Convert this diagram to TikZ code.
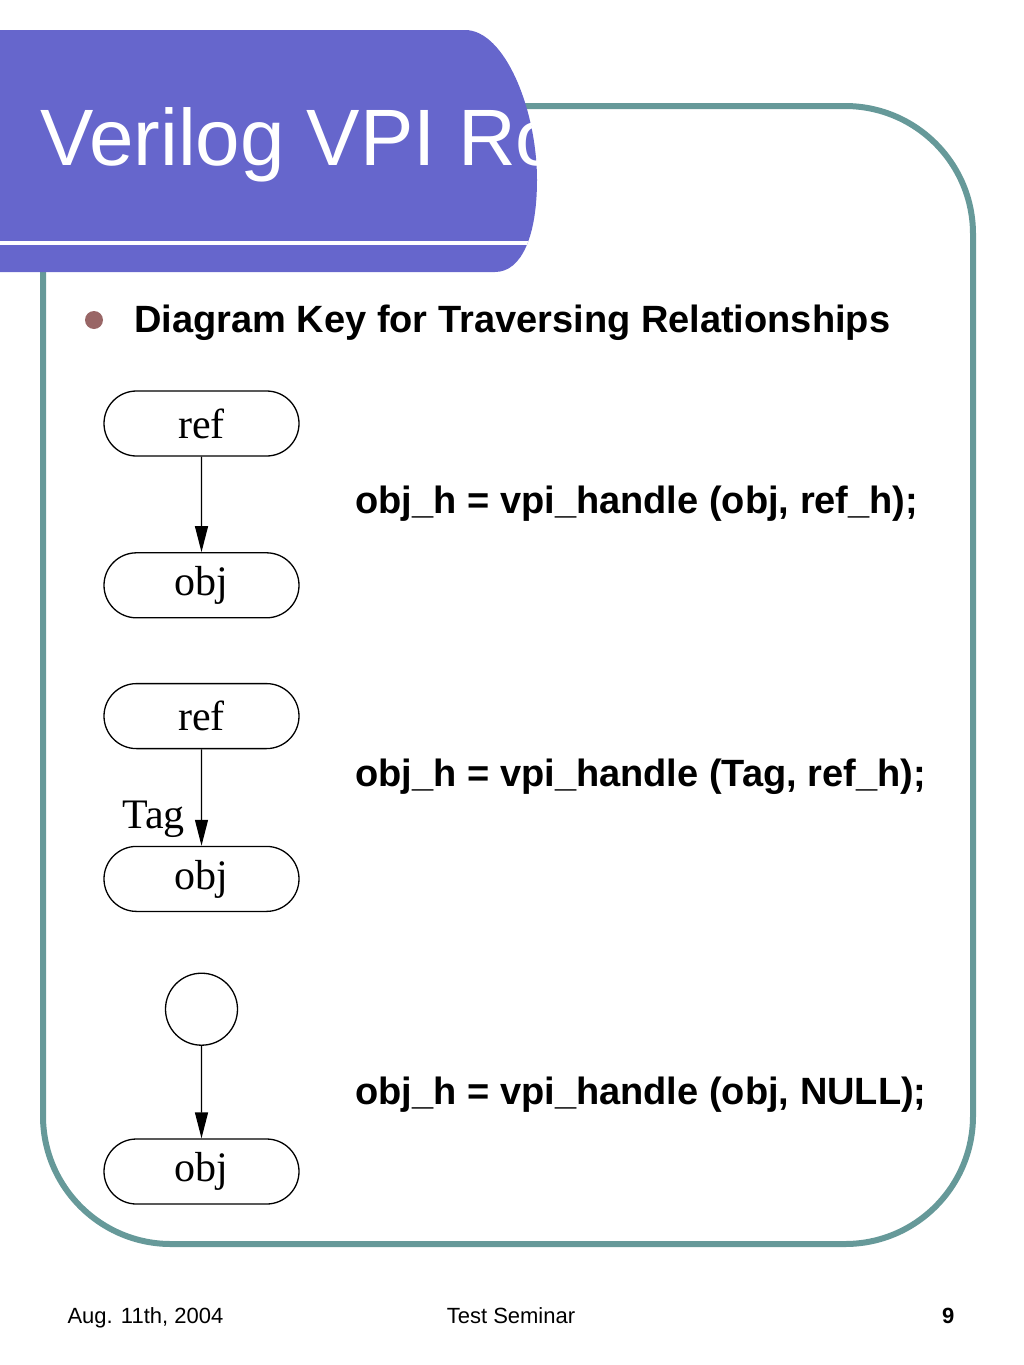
\documentclass[tikz,border=0pt]{standalone}
\usepackage{fontspec}
\setmainfont{Liberation Sans}
\newfontfamily\keyfont{Liberation Serif}
\usetikzlibrary{shapes.misc,arrows.meta,positioning}
\definecolor{tabblue}{RGB}{102,102,204}
\definecolor{frameteal}{RGB}{102,153,153}
\definecolor{bulletred}{RGB}{153,102,102}
\tikzset{
  >={Triangle[length=26pt,width=13pt]},
  keynode/.style={
    rounded rectangle,
    draw=black, line width=1.3pt,
    minimum width=195pt,
    minimum height=65pt,
    inner sep=0pt,
    font=\keyfont\fontsize{42}{42}\selectfont},
  rootnode/.style={circle, draw=black, line width=1.3pt, minimum size=72pt, inner sep=0pt},
  keyarrow/.style={draw, line width=1.3pt, ->},
  keylabel/.style={font=\keyfont\fontsize{42}{42}\selectfont, inner sep=0pt},
  codetext/.style={anchor=base west, font=\bfseries\fontsize{38}{38}\selectfont},
  foottext/.style={font=\fontsize{22}{22}\selectfont},
}

\begin{document}
\begin{tikzpicture}[x=1pt, y=-1pt]
    \useasboundingbox (0,0) rectangle (1024,1365);

    % frame
    \draw[frameteal, line width=6pt, rounded corners=128pt] (43,106) rectangle (973,1244);

    % title tab
    \begin{scope}
      \clip (0,30) -- (465,30) .. controls (505,30) and (537,110) .. (537,180)
        .. controls (537,235) and (522,272) .. (495,272) -- (0,272) -- cycle;
      \fill[tabblue] (0,0) rectangle (560,300);
      \draw[white, line width=4pt] (0,243) -- (560,243);
      \node[anchor=base west, text=white, inner sep=0pt,
        font=\fontsize{80}{80}\selectfont] (title) at (40,165) {Verilog VPI Ro};
    \end{scope}

    % heading
    \fill[bulletred] (94,320) circle (9pt);
    \node[anchor=base west, inner sep=0pt, font=\bfseries\fontsize{38}{38}\selectfont]
      (heading) at (134,332) {Diagram Key for Traversing Relationships};

    % key nodes
    \node[keynode] (ref1) at (201.5,423.5) {ref};
    \node[keynode, below=95.5pt of ref1] (obj1) {obj};
    \node[keynode, below=64.5pt of obj1] (ref2) {ref};
    \node[keynode, below=96.5pt of ref2] (obj2) {obj};
    \node[rootnode, below=60.5pt of obj2] (root) {};
    \node[keynode, below=92.5pt of root] (obj3) {obj};

    % arrows
    \draw[keyarrow] (ref1) -- (obj1);
    \draw[keyarrow] (ref2) -- node[pos=0.73, left=16pt, keylabel] (tag) {Tag} (obj2);
    \draw[keyarrow] (root) -- (obj3);

    % calls
    \node[codetext] (call1) at (352,513) {obj\_h = vpi\_handle (obj, ref\_h);};
    \node[codetext] (call2) at (352,786) {obj\_h = vpi\_handle (Tag, ref\_h);};
    \node[codetext] (call3) at (352,1104) {obj\_h = vpi\_handle (obj, NULL);};

    % footer
    \node[foottext, anchor=base west] (date) at (64,1323) {Aug. 11th, 2004};
    \node[foottext, anchor=base] (event) at (511,1323) {Test Seminar};
    \node[anchor=base east, font=\fontsize{22}{22}\selectfont\bfseries] (page) at (958,1323) {9};
\end{tikzpicture}
\end{document}
